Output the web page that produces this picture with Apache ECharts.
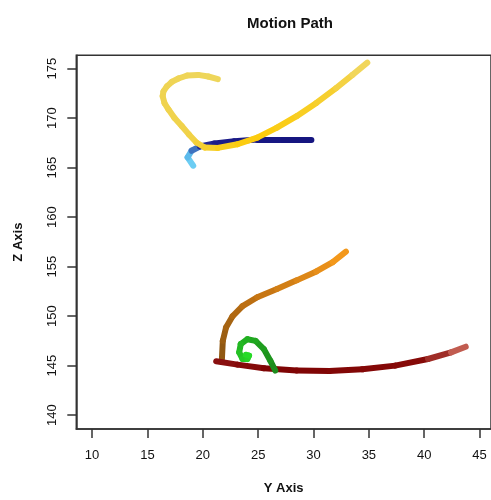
<!DOCTYPE html>
<html>
<head>
<meta charset="utf-8">
<script src="https://cdn.jsdelivr.net/npm/echarts@6/dist/echarts.min.js"></script>
<style>
  html, body { margin: 0; padding: 0; background: #fff; }
  #chart { width: 491px; height: 500px; }
</style>
</head>
<body>
<div id="chart"></div>
<script>
// tick values
const xTicks = [10, 15, 20, 25, 30, 35, 40, 45];
const yTicks = [140, 145, 150, 155, 160, 165, 170, 175];

// paths (Y axis value, Z axis value)
const blueY = [19.14, 18.63, 18.99, 19.73, 21.07, 22.85, 24.92, 27.29, 29.81];
const blueZ = [165.19, 166.03, 166.7, 167.13, 167.43, 167.66, 167.83, 167.86, 167.86];

const yellowY = [21.36, 20.5, 19.58, 18.6, 17.8, 17.2, 16.76, 16.45, 16.38, 16.55, 16.91, 17.45, 18.1, 18.75, 19.43, 20.18, 21.36, 23.14, 24.92, 26.7, 28.48, 30.26, 32.04, 33.52, 34.86];
const yellowZ = [173.93, 174.2, 174.36, 174.3, 174.0, 173.65, 173.2, 172.7, 172.2, 171.5, 170.86, 170.0, 169.2, 168.35, 167.53, 167.03, 166.99, 167.36, 168.03, 169.03, 170.19, 171.53, 173.03, 174.36, 175.6];

const orangeY = [21.73, 21.81, 22.1, 22.7, 23.59, 24.92, 26.7, 28.48, 30.26, 31.74, 32.93];
const orangeZ = [145.67, 147.5, 148.84, 150.0, 151.01, 151.91, 152.74, 153.61, 154.51, 155.45, 156.52];

const redY = [21.21, 23.14, 25.52, 28.48, 31.44, 34.41, 37.37, 40.34, 42.42, 43.75];
const redZ = [145.44, 145.1, 144.73, 144.5, 144.46, 144.63, 145.0, 145.67, 146.34, 146.91];

const greenY = [26.55, 26.1, 25.52, 24.77, 24.03, 23.43, 23.29, 23.59, 24.03, 24.18, 23.88];
const greenZ = [144.5, 145.5, 146.67, 147.5, 147.67, 147.17, 146.34, 145.67, 145.67, 146.0, 146.1];

// colour ramps along each path (fraction of path, colour)
const blueRamp = [[0, '#74d6f7'], [0.2, '#5ab8ea'], [0.45, '#1e1e8c'], [1, '#14147e']];
const yellowRamp = [[0, '#eed65c'], [0.55, '#f0d24a'], [0.75, '#fdcb08'], [0.9, '#f6cf30'], [1, '#f0d865']];
const orangeRamp = [[0, '#8a5512'], [0.5, '#c27212'], [1, '#f89c1c']];
const redRamp = [[0, '#8c1212'], [0.3, '#7e0404'], [0.75, '#860a08'], [1, '#d27464']];
const greenRamp = [[0, '#1c881c'], [0.5, '#22b422'], [1, '#28de28']];

function hexToRgb(h) {
  return [parseInt(h.slice(1, 3), 16), parseInt(h.slice(3, 5), 16), parseInt(h.slice(5, 7), 16)];
}

function rampColor(ramp, t) {
  for (let i = 1; i < ramp.length; i++) {
    if (t <= ramp[i][0]) {
      const a = ramp[i - 1], b = ramp[i];
      const f = (t - a[0]) / (b[0] - a[0] || 1);
      const ca = hexToRgb(a[1]), cb = hexToRgb(b[1]);
      const c = ca.map((v, k) => Math.round(v + (cb[k] - v) * f));
      return 'rgb(' + c.join(',') + ')';
    }
  }
  return ramp[ramp.length - 1][1];
}

function pathSeries(xs, zs, ramp, z) {
  const data = [];
  const n = xs.length - 1;
  for (let i = 0; i < n; i++) {
    data.push({
      coords: [[xs[i], zs[i]], [xs[i + 1], zs[i + 1]]],
      lineStyle: { color: rampColor(ramp, (i + 0.5) / n) }
    });
  }
  return {
    type: 'lines',
    coordinateSystem: 'cartesian2d',
    silent: true,
    z: z,
    lineStyle: { width: 6, cap: 'round', join: 'round', opacity: 1, curveness: 0 },
    data: data
  };
}

const font = 'Liberation Sans, Arial, Helvetica, sans-serif';

const chart = echarts.init(document.getElementById('chart'));

const option = {
  animation: false,
  backgroundColor: '#fff',
  title: {
    text: 'Motion Path',
    left: 285,
    top: 11,
    textAlign: 'center',
    textStyle: { fontFamily: font, fontSize: 15, fontWeight: 'bold', color: '#111' }
  },
  grid: {
    left: 76.3,
    top: 55.3,
    width: 421,
    height: 377,
    show: true,
    borderColor: '#333',
    borderWidth: 1.5,
    backgroundColor: 'transparent'
  },
  xAxis: {
    type: 'value',
    min: 8.58,
    max: 46.03,
    name: 'Y Axis',
    nameLocation: 'middle',
    nameGap: 53,
    nameTextStyle: { fontFamily: font, fontSize: 13, fontWeight: 'bold', color: '#111' },
    axisLine: { show: true, lineStyle: { color: '#333', width: 1.5 } },
    axisTick: { show: true, length: 9, customValues: xTicks, lineStyle: { color: '#333', width: 1.5 } },
    axisLabel: { customValues: xTicks, margin: 20, fontFamily: font, fontSize: 13, color: '#111' },
    splitLine: { show: false }
  },
  yAxis: {
    type: 'value',
    min: 138.6,
    max: 176.34,
    name: 'Z Axis',
    nameLocation: 'middle',
    nameGap: 51,
    nameTextStyle: { fontFamily: font, fontSize: 13, fontWeight: 'bold', color: '#111' },
    axisLine: { show: true, lineStyle: { color: '#333', width: 1.5 } },
    axisTick: { show: true, length: 9, customValues: yTicks, lineStyle: { color: '#333', width: 1.5 } },
    axisLabel: { customValues: yTicks, rotate: 90, margin: 17, fontFamily: font, fontSize: 13, color: '#111' },
    splitLine: { show: false }
  },
  series: [
    pathSeries(blueY, blueZ, blueRamp, 2),
    pathSeries(yellowY, yellowZ, yellowRamp, 3),
    pathSeries(orangeY, orangeZ, orangeRamp, 2),
    pathSeries(redY, redZ, redRamp, 3),
    pathSeries(greenY, greenZ, greenRamp, 4)
  ]
};

chart.setOption(option);
</script>
</body>
</html>
